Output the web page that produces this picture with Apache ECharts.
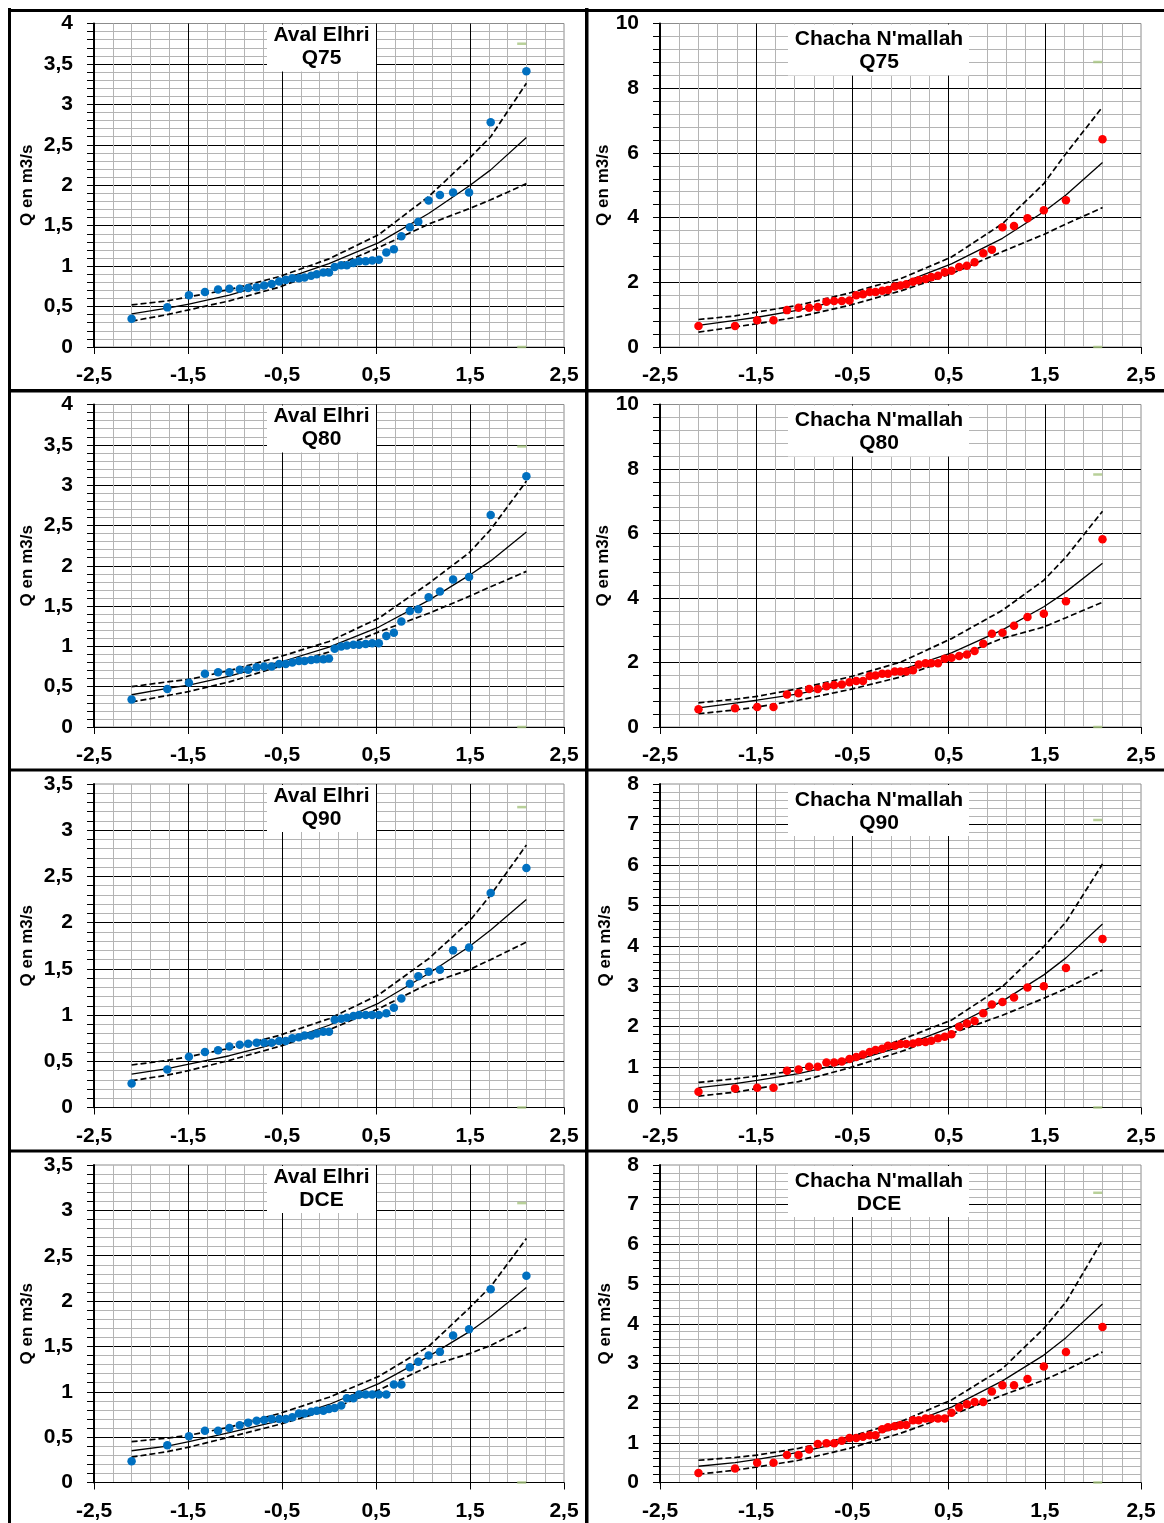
<!DOCTYPE html>
<html><head><meta charset="utf-8">
<script src="https://cdn.jsdelivr.net/npm/echarts@6/dist/echarts.min.js"></script>
<style>html,body{margin:0;padding:0;background:#fff}#c{width:1164px;height:1523px}</style>
</head><body><div id="c"></div>
<script>
// Reduced normal variable (x positions of the 39 sorted observations)
const Z = [-2.10,-1.72,-1.49,-1.32,-1.18,-1.06,-0.95,-0.86,-0.77,-0.69,-0.61,-0.53,-0.46,-0.39,-0.32,-0.26,-0.19,-0.13,-0.06,0.00,0.06,0.13,0.19,0.26,0.32,0.39,0.46,0.53,0.61,0.69,0.77,0.86,0.95,1.06,1.18,1.32,1.49,1.72,2.10];
// x positions where the fitted curve and confidence bounds were read
const FIT_Z = [-2.10,-1.72,-1.49,-1.06,-0.53,0.00,0.53,1.06,1.49,1.72,2.10];

// Aval Elhri
const AE_Q75 = [0.35,0.49,0.64,0.68,0.71,0.72,0.72,0.73,0.74,0.76,0.78,0.81,0.83,0.85,0.85,0.86,0.88,0.90,0.92,0.92,0.99,1.01,1.01,1.04,1.06,1.06,1.07,1.08,1.17,1.21,1.37,1.48,1.55,1.81,1.88,1.91,1.91,2.78,3.41];
const AE_Q75_FIT = [0.41,0.48,0.53,0.64,0.82,1.03,1.29,1.65,1.99,2.19,2.59];
const AE_Q75_UP  = [0.52,0.57,0.62,0.71,0.87,1.09,1.39,1.86,2.33,2.60,3.26];
const AE_Q75_LO  = [0.32,0.40,0.46,0.57,0.74,0.97,1.23,1.52,1.71,1.82,2.02];

const AE_Q80 = [0.34,0.47,0.55,0.66,0.68,0.68,0.71,0.71,0.74,0.75,0.75,0.78,0.78,0.80,0.82,0.82,0.83,0.84,0.84,0.85,0.97,1.00,1.01,1.02,1.02,1.03,1.04,1.04,1.13,1.17,1.31,1.44,1.46,1.61,1.68,1.83,1.86,2.63,3.11];
const AE_Q80_FIT = [0.40,0.48,0.52,0.63,0.80,0.99,1.24,1.57,1.88,2.06,2.42];
const AE_Q80_UP  = [0.50,0.56,0.59,0.70,0.87,1.06,1.35,1.78,2.16,2.45,3.05];
const AE_Q80_LO  = [0.31,0.39,0.44,0.56,0.75,0.93,1.18,1.41,1.62,1.74,1.93];

const AE_Q90 = [0.26,0.41,0.55,0.60,0.62,0.66,0.68,0.69,0.70,0.70,0.70,0.72,0.72,0.75,0.76,0.78,0.78,0.80,0.82,0.82,0.95,0.96,0.97,0.99,1.00,1.00,1.00,1.00,1.02,1.08,1.18,1.34,1.42,1.47,1.49,1.70,1.73,2.32,2.59];
const AE_Q90_FIT = [0.36,0.42,0.47,0.56,0.70,0.89,1.13,1.45,1.74,1.92,2.25];
const AE_Q90_UP  = [0.46,0.51,0.55,0.64,0.78,0.96,1.22,1.61,2.01,2.30,2.84];
const AE_Q90_LO  = [0.29,0.35,0.40,0.51,0.66,0.84,1.07,1.34,1.49,1.60,1.79];

const AE_DCE = [0.235,0.41,0.51,0.57,0.57,0.60,0.63,0.66,0.68,0.69,0.70,0.70,0.70,0.72,0.76,0.76,0.78,0.79,0.79,0.81,0.82,0.85,0.93,0.93,0.97,0.97,0.97,0.97,0.97,1.08,1.08,1.27,1.33,1.40,1.44,1.62,1.69,2.13,2.28];
const AE_DCE_FIT = [0.35,0.40,0.45,0.55,0.68,0.86,1.09,1.39,1.66,1.83,2.15];
const AE_DCE_UP  = [0.45,0.49,0.52,0.61,0.76,0.94,1.17,1.50,1.92,2.16,2.69];
const AE_DCE_LO  = [0.28,0.34,0.39,0.50,0.64,0.80,1.02,1.28,1.42,1.51,1.71];

// Chacha N'mallah
const CN_Q75 = [0.65,0.65,0.83,0.83,1.14,1.21,1.21,1.24,1.40,1.42,1.42,1.44,1.60,1.63,1.70,1.70,1.74,1.76,1.87,1.90,1.94,2.02,2.06,2.10,2.16,2.20,2.31,2.36,2.47,2.51,2.62,2.90,3.01,3.70,3.74,3.98,4.23,4.54,6.42];
const CN_Q75_FIT = [0.67,0.82,0.92,1.14,1.50,1.96,2.57,3.36,4.18,4.70,5.70];
const CN_Q75_UP  = [0.85,0.96,1.08,1.29,1.67,2.11,2.78,3.81,5.05,5.98,7.42];
const CN_Q75_LO  = [0.46,0.62,0.72,0.93,1.29,1.73,2.27,2.95,3.48,3.80,4.31];

const CN_Q80 = [0.55,0.58,0.62,0.62,1.01,1.05,1.18,1.18,1.26,1.30,1.32,1.39,1.43,1.43,1.58,1.60,1.65,1.65,1.72,1.72,1.72,1.76,1.94,1.98,1.98,1.98,2.12,2.15,2.20,2.25,2.36,2.58,2.89,2.92,3.14,3.41,3.51,3.90,5.82];
const CN_Q80_FIT = [0.59,0.74,0.83,1.03,1.35,1.76,2.30,3.01,3.73,4.19,5.08];
const CN_Q80_UP  = [0.75,0.86,0.95,1.19,1.55,2.01,2.74,3.62,4.55,5.27,6.69];
const CN_Q80_LO  = [0.41,0.53,0.62,0.83,1.16,1.55,2.12,2.75,3.10,3.39,3.87];

const CN_Q90 = [0.39,0.47,0.49,0.49,0.91,0.94,1.01,1.01,1.11,1.11,1.14,1.20,1.25,1.31,1.37,1.42,1.45,1.53,1.53,1.57,1.57,1.58,1.62,1.62,1.65,1.71,1.75,1.81,2.00,2.08,2.14,2.33,2.55,2.61,2.72,2.97,3.00,3.45,4.17];
const CN_Q90_FIT = [0.49,0.59,0.67,0.84,1.12,1.50,1.99,2.63,3.28,3.70,4.54];
const CN_Q90_UP  = [0.62,0.71,0.78,0.92,1.21,1.67,2.16,2.99,3.98,4.59,6.02];
const CN_Q90_LO  = [0.28,0.38,0.47,0.64,0.98,1.38,1.83,2.28,2.70,2.94,3.40];

const CN_DCE = [0.24,0.35,0.50,0.50,0.69,0.69,0.83,0.97,0.99,0.99,1.05,1.12,1.12,1.15,1.19,1.19,1.34,1.39,1.42,1.45,1.45,1.57,1.57,1.61,1.61,1.61,1.61,1.76,1.89,1.97,2.03,2.03,2.29,2.45,2.45,2.61,2.92,3.29,3.92];
const CN_DCE_FIT = [0.41,0.50,0.58,0.76,1.04,1.40,1.90,2.56,3.21,3.65,4.50];
const CN_DCE_UP  = [0.56,0.63,0.69,0.86,1.15,1.53,2.08,2.87,3.88,4.55,6.11];
const CN_DCE_LO  = [0.21,0.31,0.39,0.56,0.86,1.24,1.70,2.20,2.58,2.83,3.29];

// small light-green marks at x = 2.05 (top value per panel, and 0)
const GREEN_X = 2.05;
const GREEN_TOP = [3.75, 8.81, 3.48, 7.83, 3.25, 7.11, 3.08, 7.30];

const SITES = ['Aval Elhri', "Chacha N'mallah"];
const LABELS = ['Q75', 'Q80', 'Q90', 'DCE'];
const Y_MAX = [[4, 10], [4, 10], [3.5, 8], [3.5, 8]];
const Y_INT = [[0.5, 2], [0.5, 2], [0.5, 1], [0.5, 1]];
const Y_NAME = 'Q en m3/s';

const BLUE = '#0070C0', RED = '#FF0000';
const SERIES_SETS = [
  [AE_Q75, AE_Q75_FIT, AE_Q75_UP, AE_Q75_LO], [CN_Q75, CN_Q75_FIT, CN_Q75_UP, CN_Q75_LO],
  [AE_Q80, AE_Q80_FIT, AE_Q80_UP, AE_Q80_LO], [CN_Q80, CN_Q80_FIT, CN_Q80_UP, CN_Q80_LO],
  [AE_Q90, AE_Q90_FIT, AE_Q90_UP, AE_Q90_LO], [CN_Q90, CN_Q90_FIT, CN_Q90_UP, CN_Q90_LO],
  [AE_DCE, AE_DCE_FIT, AE_DCE_UP, AE_DCE_LO], [CN_DCE, CN_DCE_FIT, CN_DCE_UP, CN_DCE_LO]
];

// layout
const ROW_TOP = [23.5, 404.5, 784, 1165];
const ROW_H = [323.5, 322.5, 323.5, 317.5];
const COL_LEFT = [94, 660];
const COL_W = [470, 481];
const NAME_GAP = [58, 46];
const FONT = '"Liberation Sans", Arial, sans-serif';
const fmt = v => String(+(+v).toFixed(2)).replace('.', ',');

const grids = [], xAxes = [], yAxes = [], series = [], graphics = [];
for (let i = 0; i < 8; i++) {
  const row = Math.floor(i / 2), col = i % 2;
  const [pts, fit, up, lo] = SERIES_SETS[i];
  const color = col === 0 ? BLUE : RED;
  grids.push({left: COL_LEFT[col], top: ROW_TOP[row], width: COL_W[col], height: ROW_H[row],
    show: true, borderColor: '#8c8c8c', borderWidth: 1, backgroundColor: 'transparent',
    containLabel: false, outerBoundsMode: 'none'});
  xAxes.push({gridIndex: i, type: 'value', min: -2.5, max: 2.5, interval: 1,
    axisLine: {show: true, onZero: false, lineStyle: {color: '#000', width: 1}},
    axisTick: {show: true, inside: false, length: 7, lineStyle: {color: '#000', width: 1}},
    minorTick: {show: false, splitNumber: 5},
    splitLine: {show: true, showMinLine: false, showMaxLine: false, lineStyle: {color: '#000', width: 1}},
    minorSplitLine: {show: true, lineStyle: {color: '#b4b4b4', width: 1}},
    axisLabel: {show: true, formatter: fmt, color: '#000', fontFamily: FONT, fontWeight: 'bold', fontSize: 21, margin: 18,
      showMinLabel: true, showMaxLabel: true, hideOverlap: false}
  });
  yAxes.push({gridIndex: i, type: 'value', min: 0, max: Y_MAX[row][col], interval: Y_INT[row][col],
    name: Y_NAME, nameLocation: 'middle', nameRotate: 90, nameGap: NAME_GAP[col],
    nameTextStyle: {color: '#000', fontFamily: FONT, fontWeight: 'bold', fontSize: 17},
    axisLine: {show: true, onZero: false, lineStyle: {color: '#000', width: 2}},
    axisTick: {show: true, inside: false, length: 7, lineStyle: {color: '#000', width: 1}},
    minorTick: {show: true, splitNumber: 5, length: 7, lineStyle: {color: '#000', width: 1}},
    splitLine: {show: true, showMinLine: false, showMaxLine: false, lineStyle: {color: '#000', width: 1}},
    minorSplitLine: {show: true, lineStyle: {color: '#b4b4b4', width: 1}},
    axisLabel: {show: true, formatter: fmt, color: '#000', fontFamily: FONT, fontWeight: 'bold', fontSize: 21, margin: 21,
      showMinLabel: true, showMaxLabel: true, hideOverlap: false}
  });
  const ax = {xAxisIndex: i, yAxisIndex: i, silent: true, animation: false};
  series.push(Object.assign({type: 'line', data: FIT_Z.map((z, k) => [z, up[k]]), symbol: 'none', showSymbol: false,
    lineStyle: {color: '#000', width: 1.7, type: [6, 3]}, z: 3}, ax));
  series.push(Object.assign({type: 'line', data: FIT_Z.map((z, k) => [z, lo[k]]), symbol: 'none', showSymbol: false,
    lineStyle: {color: '#000', width: 1.7, type: [6, 3]}, z: 3}, ax));
  series.push(Object.assign({type: 'line', data: FIT_Z.map((z, k) => [z, fit[k]]), symbol: 'none', showSymbol: false,
    lineStyle: {color: '#000', width: 1.3}, z: 3}, ax));
  series.push(Object.assign({type: 'scatter', data: Z.map((z, k) => [z, pts[k]]), symbol: 'circle', symbolSize: 8.5,
    itemStyle: {color: color, opacity: 1}, z: 4}, ax));
  series.push(Object.assign({type: 'scatter', data: [[GREEN_X, GREEN_TOP[i]], [GREEN_X, 0]], symbol: 'rect', symbolSize: [9, 2.5],
    itemStyle: {color: '#a6c47f'}, z: 5}, ax));

  // title box
  const T = ROW_TOP[row];
  if (col === 0) {
    graphics.push({type: 'rect', shape: {x: 267, y: T + 1, width: 109, height: 47}, style: {fill: '#fff'}, z: 10, silent: true});
    graphics.push({type: 'text', x: 321.5, y: T + 12, style: {text: SITES[0], font: 'bold 21px ' + FONT, fill: '#000', align: 'center', verticalAlign: 'middle'}, z: 11, silent: true});
    graphics.push({type: 'text', x: 321.5, y: T + 35, style: {text: LABELS[row], font: 'bold 21px ' + FONT, fill: '#000', align: 'center', verticalAlign: 'middle'}, z: 11, silent: true});
  } else {
    graphics.push({type: 'rect', shape: {x: 788, y: T + 1, width: 181, height: 51}, style: {fill: '#fff'}, z: 10, silent: true});
    graphics.push({type: 'text', x: 879, y: T + 16, style: {text: SITES[1], font: 'bold 21px ' + FONT, fill: '#000', align: 'center', verticalAlign: 'middle'}, z: 11, silent: true});
    graphics.push({type: 'text', x: 879, y: T + 39, style: {text: LABELS[row], font: 'bold 21px ' + FONT, fill: '#000', align: 'center', verticalAlign: 'middle'}, z: 11, silent: true});
  }
}
// panel frame lines
[[8, 9, 1156, 3], [8, 8, 3, 1515], [585, 8, 3.5, 1515], [8, 389, 1156, 3.5], [8, 768.5, 1156, 3], [8, 1149.5, 1156, 3]]
  .forEach(r => graphics.push({type: 'rect', shape: {x: r[0], y: r[1], width: r[2], height: r[3]}, style: {fill: '#000'}, z: 12, silent: true}));

const chart = echarts.init(document.getElementById('c'), null, {renderer: 'canvas'});
chart.setOption({
  animation: false,
  backgroundColor: '#fff',
  grid: grids, xAxis: xAxes, yAxis: yAxes, series: series,
  graphic: {elements: graphics}
});
</script>
</body></html>
